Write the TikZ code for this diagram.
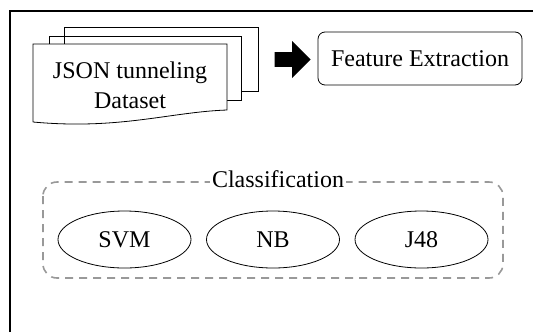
\documentclass[tikz,border=0pt]{standalone}
\usepackage{fontspec}
\setmainfont{Liberation Serif}
\usetikzlibrary{shapes.geometric,shapes.arrows}

\begin{document}
\begin{tikzpicture}[x=0.5pt,y=-0.5pt,
  box/.style={draw,rounded corners=3.5pt,minimum width=102pt,minimum height=26.5pt},
  algo/.style={draw,ellipse,minimum width=66.5pt,minimum height=28.5pt},
  group/.style={draw=gray!80,dashed,line width=0.8pt,dash pattern=on 4pt off 3pt,rounded corners=7pt}]
  \useasboundingbox (0,0) rectangle (533,332);
  \fontsize{12}{14}\selectfont

  % Rahmen (nur links und oben)
  \draw[line width=0.9pt] (10,332) -- (10,11) -- (533,11);

  % Datensatz (drei Blaetter)
  \draw (64,91) -- (64,27) -- (258,27) -- (258,91) -- (241,91);
  \draw (49,100) -- (49,36) -- (241,36) -- (241,100) -- (227,100);
  \draw[fill=white] (33,122) -- (33,44) -- (227,44) -- (227,110)
    .. controls (170,112) and (120,130) .. (33,122);
  \node[align=center] (data) at (130,85) {JSON tunneling\\[1pt]Dataset};

  % Pfeil
  \node[single arrow,fill=black,minimum height=18pt,minimum width=18.5pt,
    single arrow head extend=0.3pt,inner sep=0pt] (arrow) at (289,59.5) {};

  % Merkmale
  \node[box] (feature) at (420,58.5) {Feature Extraction};

  % Klassifikation
  \draw[group] (43,182) rectangle (503,278);
  \node[fill=white,inner sep=1pt] (class) at (278,179) {Classification};
  \node[algo] (svm) at (124.5,239.5) {SVM};
  \node[algo] (nb) at (273,239.5) {NB};
  \node[algo] (j48) at (421.5,239.5) {J48};

\end{tikzpicture}
\end{document}
